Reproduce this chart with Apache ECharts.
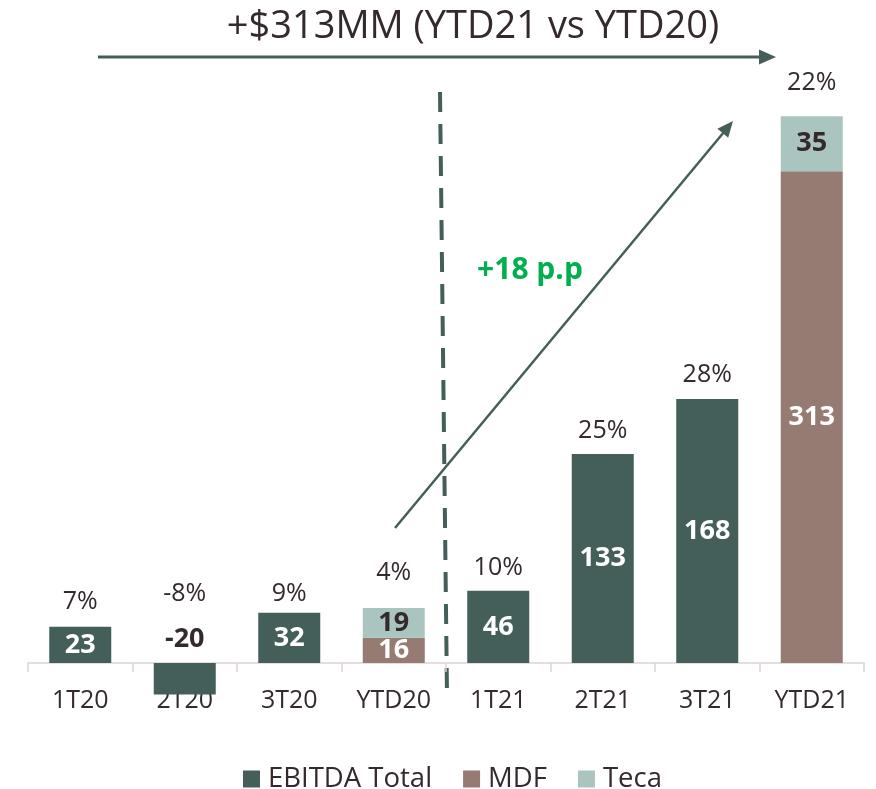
<!DOCTYPE html>
<html><head><meta charset="utf-8">
<script src="https://cdn.jsdelivr.net/npm/echarts@6/dist/echarts.min.js"></script>
<style>html,body{margin:0;padding:0;background:#fff}#c{width:876px;height:789px}</style>
</head><body><div id="c"></div>
<script>
var categories = ['1T20','2T20','3T20','YTD20','1T21','2T21','3T21','YTD21'];
var ebitda = [23, -20, 32, '-', 46, 133, 168, '-'];
var mdf = ['-', '-', '-', 16, '-', '-', '-', 313];
var teca = ['-', '-', '-', 19, '-', '-', '-', 35];
var pctLabels = ['7%', '-8%', '9%', '4%', '10%', '25%', '28%', '22%'];
var pctDist = [12, 56, 6, 22, 10, 10, 11, 20];

var DARK = '#445f59', BROWN = '#967b72', LIGHT = '#aac4c0', TXT = '#342a2b';
var FONT = 'Open Sans';

function num(v){ return typeof v === 'number' ? v : 0; }
var tops = categories.map(function(c,i){ return Math.max(0, num(ebitda[i]) + num(mdf[i]) + num(teca[i])); });

var chart = echarts.init(document.getElementById('c'));
chart.setOption({
  animation: false,
  grid: { left: 28, right: 12, top: 97.3, bottom: 94.6, containLabel: false },
  xAxis: {
    type: 'category', data: categories,
    axisLine: { onZero: true, lineStyle: { color: '#dcd3d3', width: 1.5 } },
    axisTick: { show: true, length: 9, lineStyle: { color: '#dcd3d3', width: 1.5 } },
    axisLabel: { color: TXT, fontFamily: FONT, fontSize: 25, margin: -6 }
  },
  yAxis: { type: 'value', min: -20, max: 360, show: false, splitLine: { show: false } },
  legend: {
    data: ['EBITDA Total', 'MDF', 'Teca'], top: 760, left: 238,
    icon: 'rect', itemWidth: 17, itemHeight: 17, itemGap: 31,
    textStyle: { color: TXT, fontFamily: FONT, fontSize: 27.5, padding: [0,0,0,3] }
  },
  series: [
    { name: 'EBITDA Total', type: 'bar', stack: 'tot', barWidth: 62,
      data: ebitda.map(function(v){ return (typeof v==='number' && v<0) ? { value: v, label: { position: 'top', color: TXT, distance: 10 } } : v; }),
      itemStyle: { color: DARK },
      label: { show: true, position: 'inside', color: '#fff', fontFamily: FONT, fontWeight: 'bold', fontSize: 27 }
    },
    { name: 'MDF', type: 'bar', stack: 'tot', barWidth: 62, data: mdf,
      itemStyle: { color: BROWN },
      label: { show: true, position: 'inside', color: '#fff', fontFamily: FONT, fontWeight: 'bold', fontSize: 27 }
    },
    { name: 'Teca', type: 'bar', stack: 'tot', barWidth: 62, data: teca,
      itemStyle: { color: LIGHT },
      label: { show: true, position: 'inside', color: TXT, fontFamily: FONT, fontWeight: 'bold', fontSize: 27 }
    },
    { name: 'pct', type: 'scatter', symbolSize: 1, itemStyle: { color: 'rgba(0,0,0,0)', opacity: 1 },
      data: tops.map(function(v,i){ return { value: v, label: { distance: pctDist[i] } }; }),
      label: { show: true, position: 'top', color: TXT, fontFamily: FONT, fontSize: 25,
        formatter: function(p){ return pctLabels[p.dataIndex]; } },
      silent: true
    }
  ],
  graphic: [
    { type: 'text', x: 473, y: 27, style: { text: '+$313MM (YTD21 vs YTD20)', fill: TXT, font: '38px "Open Sans"', textAlign: 'center', textVerticalAlign: 'middle' } },
    { type: 'line', shape: { x1: 98, y1: 57, x2: 762, y2: 57 }, style: { stroke: DARK, lineWidth: 3 } },
    { type: 'polygon', shape: { points: [[776,57],[759,49.5],[759,64.5]] }, style: { fill: DARK } },
    { type: 'line', shape: { x1: 395, y1: 528, x2: 724, y2: 132 }, style: { stroke: DARK, lineWidth: 2.5 } },
    { type: 'polygon', shape: { points: [[733,121],[728.2,137.8],[717.4,128.8]] }, style: { fill: DARK } },
    { type: 'line', shape: { x1: 440, y1: 92, x2: 447, y2: 696 }, style: { stroke: DARK, lineWidth: 4, lineDash: [20, 12] } },
    { type: 'text', x: 530, y: 270, style: { text: '+18 p.p', fill: '#00b050', font: 'bold 30px "Open Sans"', textAlign: 'center', textVerticalAlign: 'middle' } }
  ]
});
</script></body></html>
